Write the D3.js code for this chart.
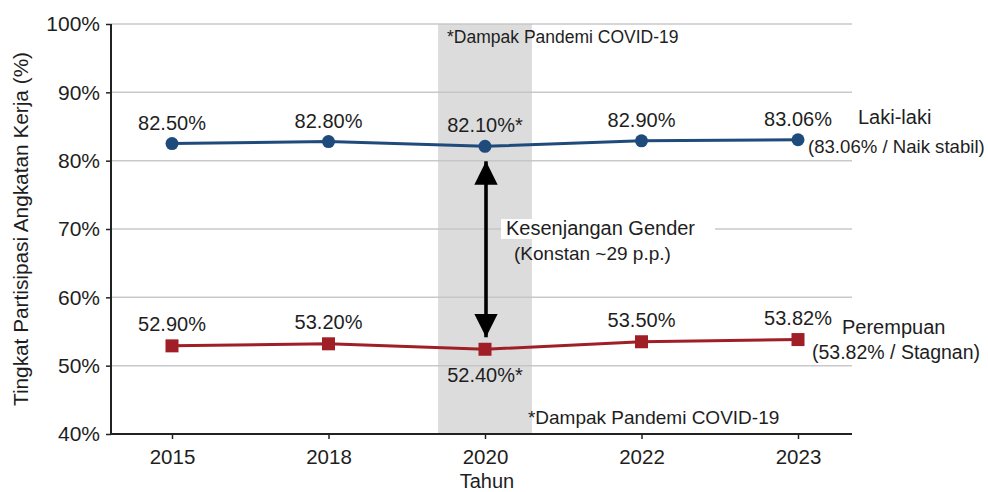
<!DOCTYPE html>
<html>
<head>
<meta charset="utf-8">
<script src="https://cdn.jsdelivr.net/npm/d3@7"></script>
<style>
  body { margin: 0; background: #fff; }
  svg { font-family: "Liberation Sans", Arial, sans-serif; }
</style>
</head>
<body>
<div id="chart-area"></div>
<script>
// chart data
const years = ["2015", "2018", "2020", "2022", "2023"];
const lakiLaki = [82.5, 82.8, 82.1, 82.9, 83.06];
const perempuan = [52.9, 53.2, 52.4, 53.5, 53.82];
const lakiLabels = ["82.50%", "82.80%", "82.10%*", "82.90%", "83.06%"];
const perempuanLabels = ["52.90%", "53.20%", "52.40%*", "53.50%", "53.82%"];
const yTicks = [40, 50, 60, 70, 80, 90, 100];
const covidYear = "2020";

const width = 988;
const height = 492;
const plot = { left: 111, right: 852, top: 24, bottom: 434 };

const blue = "#1f4b7c";
const red = "#a01f26";
const textColor = "#1e1e1e";

const svg = d3.select("#chart-area")
  .append("svg")
  .attr("width", width)
  .attr("height", height);

const x = d3.scalePoint()
  .domain(years)
  .range([172, 798]);

const y = d3.scaleLinear()
  .domain([40, 100])
  .range([plot.bottom, plot.top]);

// gridlines
svg.append("g")
  .selectAll("line")
  .data(yTicks.slice(1))
  .join("line")
  .attr("x1", plot.left)
  .attr("x2", plot.right)
  .attr("y1", d => y(d))
  .attr("y2", d => y(d))
  .attr("stroke", "#c9c9c9")
  .attr("stroke-width", 1.5);

// gender gap annotation text box (hides grid line behind it)
const gapText = svg.append("g");
gapText.append("rect")
  .attr("x", x(covidYear) + 16)
  .attr("y", y(70) - 10)
  .attr("width", 214)
  .attr("height", 20)
  .attr("fill", "#fff");

// covid band
const step = x.step();
svg.append("rect")
  .attr("x", x(covidYear) - step * 0.3)
  .attr("width", step * 0.6)
  .attr("y", plot.top)
  .attr("height", plot.bottom - plot.top)
  .attr("fill", "#c4c4c4")
  .attr("opacity", 0.6);

gapText.raise();
gapText.append("text")
  .attr("x", x(covidYear) + 21)
  .attr("y", y(70) + 6)
  .attr("font-size", 20)
  .attr("fill", textColor)
  .text("Kesenjangan Gender");
gapText.append("text")
  .attr("x", x(covidYear) + 29)
  .attr("y", y(70) + 31)
  .attr("font-size", 19)
  .attr("fill", textColor)
  .text("(Konstan ~29 p.p.)");

// axes
const yAxis = svg.append("g")
  .attr("transform", `translate(${plot.left},0)`)
  .call(d3.axisLeft(y).tickValues(yTicks).tickFormat(d => d + "%").tickSize(5).tickPadding(6));
yAxis.select(".domain").remove();
yAxis.selectAll("text").attr("font-size", 21).attr("fill", textColor).attr("font-family", "Liberation Sans, Arial, sans-serif");
yAxis.selectAll("line").attr("stroke", "#222").attr("stroke-width", 1.5);

const xAxis = svg.append("g")
  .attr("transform", `translate(0,${plot.bottom})`)
  .call(d3.axisBottom(x).tickSize(5).tickPadding(10));
xAxis.select(".domain").remove();
xAxis.selectAll("text").attr("font-size", 20.5).attr("fill", textColor).attr("font-family", "Liberation Sans, Arial, sans-serif");
xAxis.selectAll("line").attr("stroke", "#222").attr("stroke-width", 1.5);

// spines
svg.append("line")
  .attr("x1", plot.left).attr("x2", plot.left)
  .attr("y1", plot.top).attr("y2", plot.bottom)
  .attr("stroke", "#222").attr("stroke-width", 2);
svg.append("line")
  .attr("x1", plot.left).attr("x2", plot.right)
  .attr("y1", plot.bottom).attr("y2", plot.bottom)
  .attr("stroke", "#222").attr("stroke-width", 2);

// axis titles
svg.append("text")
  .attr("transform", `translate(28,${(plot.top + plot.bottom) / 2}) rotate(-90)`)
  .attr("text-anchor", "middle")
  .attr("font-size", 20.8)
  .attr("fill", textColor)
  .text("Tingkat Partisipasi Angkatan Kerja (%)");

svg.append("text")
  .attr("x", x(covidYear) + 2)
  .attr("y", 488)
  .attr("text-anchor", "middle")
  .attr("font-size", 20)
  .attr("fill", textColor)
  .text("Tahun");

// covid notes
svg.append("text")
  .attr("x", x(covidYear) - step * 0.3 + 9)
  .attr("y", 43)
  .attr("font-size", 17.5)
  .attr("fill", textColor)
  .text("*Dampak Pandemi COVID-19");
svg.append("text")
  .attr("x", x(covidYear) + step * 0.3 - 4)
  .attr("y", 424)
  .attr("font-size", 19)
  .attr("fill", textColor)
  .text("*Dampak Pandemi COVID-19");

// arrow
const defs = svg.append("defs");
["start", "end"].forEach(k => {
  defs.append("marker")
    .attr("id", `arrow-${k}`)
    .attr("viewBox", "0 -5 10 10")
    .attr("refX", k === "end" ? 10 : 0)
    .attr("refY", 0)
    .attr("markerWidth", 6.5)
    .attr("markerHeight", 6.5)
    .attr("markerUnits", "strokeWidth")
    .attr("orient", "auto")
    .append("path")
    .attr("fill", "#000")
    .attr("d", k === "end" ? "M0,-5L10,0L0,5Z" : "M10,-5L0,0L10,5Z");
});
svg.append("line")
  .attr("x1", x(covidYear) + 1)
  .attr("x2", x(covidYear) + 1)
  .attr("y1", y(lakiLaki[2]) + 15)
  .attr("y2", y(perempuan[2]) - 12)
  .attr("stroke", "#000")
  .attr("stroke-width", 3.6)
  .attr("marker-start", "url(#arrow-start)")
  .attr("marker-end", "url(#arrow-end)");

// lines
const line = d3.line().x((d, i) => x(years[i])).y(d => y(d));

svg.append("path")
  .datum(lakiLaki)
  .attr("d", line)
  .attr("fill", "none")
  .attr("stroke", blue)
  .attr("stroke-width", 3);

svg.append("path")
  .datum(perempuan)
  .attr("d", line)
  .attr("fill", "none")
  .attr("stroke", red)
  .attr("stroke-width", 3);

svg.append("g")
  .selectAll("circle")
  .data(lakiLaki)
  .join("circle")
  .attr("cx", (d, i) => x(years[i]))
  .attr("cy", d => y(d))
  .attr("r", 6.5)
  .attr("fill", blue);

svg.append("g")
  .selectAll("rect")
  .data(perempuan)
  .join("rect")
  .attr("x", (d, i) => x(years[i]) - 6.5)
  .attr("y", d => y(d) - 6.5)
  .attr("width", 13)
  .attr("height", 13)
  .attr("fill", red);

// value labels
svg.append("g")
  .selectAll("text")
  .data(lakiLaki)
  .join("text")
  .attr("x", (d, i) => x(years[i]))
  .attr("y", d => y(d) - 14)
  .attr("text-anchor", "middle")
  .attr("font-size", 20)
  .attr("fill", textColor)
  .text((d, i) => lakiLabels[i]);

svg.append("g")
  .selectAll("text")
  .data(perempuan)
  .join("text")
  .attr("x", (d, i) => x(years[i]))
  .attr("y", (d, i) => years[i] === covidYear ? y(d) + 33 : y(d) - 15)
  .attr("text-anchor", "middle")
  .attr("font-size", 20)
  .attr("fill", textColor)
  .text((d, i) => perempuanLabels[i]);

// series labels at the right
const last = years.length - 1;
svg.append("text")
  .attr("x", x(years[last]) + 60)
  .attr("y", y(lakiLaki[last]) - 16)
  .attr("font-size", 20)
  .attr("fill", textColor)
  .text("Laki-laki");
svg.append("text")
  .attr("x", x(years[last]) + 10)
  .attr("y", y(lakiLaki[last]) + 13)
  .attr("font-size", 18.6)
  .attr("fill", textColor)
  .text("(83.06% / Naik stabil)");

svg.append("text")
  .attr("x", x(years[last]) + 44)
  .attr("y", y(perempuan[last]) - 6)
  .attr("font-size", 20)
  .attr("fill", textColor)
  .text("Perempuan");
svg.append("text")
  .attr("x", x(years[last]) + 14)
  .attr("y", y(perempuan[last]) + 19)
  .attr("font-size", 19.5)
  .attr("fill", textColor)
  .text("(53.82% / Stagnan)");
</script>
</body>
</html>
